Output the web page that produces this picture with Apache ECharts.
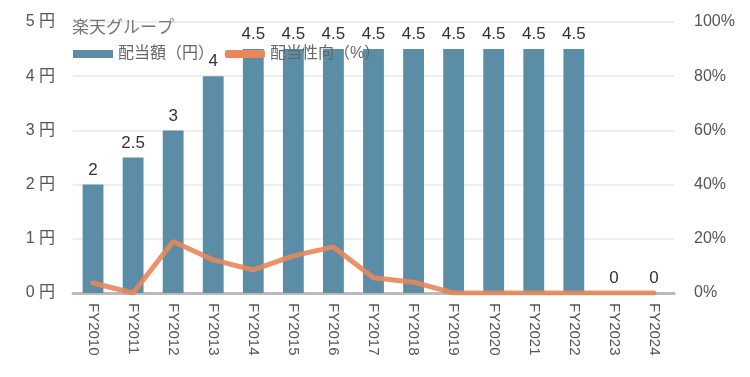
<!DOCTYPE html>
<html>
<head>
<meta charset="utf-8">
<script src="https://cdn.jsdelivr.net/npm/echarts@6/dist/echarts.min.js"></script>
<style>
  html, body { margin: 0; padding: 0; background: #fff; }
  #chart { width: 750px; height: 377px; }
</style>
</head>
<body>
<div id="chart"></div>
<script>
// 年度
const years = ['FY2010', 'FY2011', 'FY2012', 'FY2013', 'FY2014', 'FY2015', 'FY2016', 'FY2017',
  'FY2018', 'FY2019', 'FY2020', 'FY2021', 'FY2022', 'FY2023', 'FY2024'];
// 配当額（円）
const dividend = [2, 2.5, 3, 4, 4.5, 4.5, 4.5, 4.5, 4.5, 4.5, 4.5, 4.5, 4.5, 0, 0];
// 配当性向（%）
const payoutRatio = [3.7, 0, 19, 12.2, 8.5, 13.7, 17, 5.6, 4, 0, 0, 0, 0, 0, 0];

const fontFam = '"Liberation Sans", "Noto Sans CJK JP", sans-serif';

var myChart = echarts.init(document.getElementById('chart'));
var option = {
  textStyle: { fontFamily: fontFam },
  title: {
    text: '楽天グループ',
    left: 67,
    top: 15,
    textStyle: { fontSize: 17, fontWeight: 'normal', color: '#777', fontFamily: fontFam }
  },
  legend: {
    left: 68,
    top: 41,
    itemGap: 11,
    itemWidth: 40,
    itemHeight: 8,
    textStyle: { fontSize: 16, color: '#666' },
    data: [
      { name: '配当額（円）', icon: 'rect' },
      { name: '配当性向（%）', icon: 'roundRect', itemStyle: { color: '#e8875a' } }
    ]
  },
  grid: { left: 73, right: 76, top: 22, bottom: 84 },
  xAxis: {
    type: 'category',
    data: years,
    axisTick: { show: false },
    axisLine: { lineStyle: { color: '#bbb', width: 3 } },
    axisLabel: { rotate: -90, color: '#555', fontSize: 15, margin: 10 }
  },
  yAxis: [
    {
      type: 'value',
      min: 0,
      max: 5,
      interval: 1,
      axisLabel: { formatter: '{value} 円', color: '#555', fontSize: 16, margin: 18 },
      splitLine: { lineStyle: { color: '#eee', width: 2 } }
    },
    {
      type: 'value',
      min: 0,
      max: 100,
      interval: 20,
      axisLabel: { formatter: '{value}%', color: '#555', fontSize: 16, margin: 20 },
      splitLine: { show: false }
    }
  ],
  series: [
    {
      name: '配当額（円）',
      type: 'bar',
      data: dividend,
      barWidth: '52%',
      itemStyle: { color: '#5b8ea6' },
      label: { show: true, position: 'top', color: '#333', fontSize: 17, distance: 6 }
    },
    {
      name: '配当性向（%）',
      type: 'line',
      yAxisIndex: 1,
      data: payoutRatio,
      symbol: 'none',
      lineStyle: { color: '#e8875a', width: 5, opacity: 0.9, cap: 'round' },
      itemStyle: { color: '#e8875a' }
    }
  ]
};
option && myChart.setOption(option);
</script>
</body>
</html>
